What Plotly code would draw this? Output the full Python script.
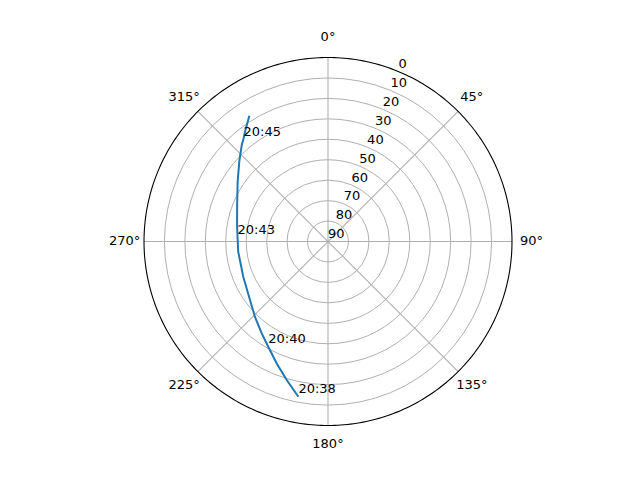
import plotly.graph_objects as go

# satellite pass: azimuth (deg) and elevation (deg)
azimuth = [190.8, 196.6, 202.8, 209.6, 215.8, 224.2, 233.1, 247.4, 263.5,
           272.8, 280.3, 291.9, 303.5, 312.0, 318.2, 320.5, 322.9, 328.0]
elevation = [12.7, 19.3, 25.3, 30.8, 34.6, 38.7, 42.3, 45.1, 45.8,
             45.7, 44.8, 42.1, 37.0, 31.6, 26.7, 25.0, 22.7, 17.4]

label_times = ['20:38', '20:40', '20:43', '20:45']
label_az = [190.8, 209.6, 272.8, 320.5]
label_el = [12.7, 30.8, 45.7, 25.0]

elev_ticks = [0, 10, 20, 30, 40, 50, 60, 70, 80, 90]
elev_label_az = 22.5
az_ticks = [0, 45, 90, 135, 180, 225, 270, 315]

font = dict(family='DejaVu Sans', size=13, color='black')
grid = dict(color='#b0b0b0', width=1.1)

fig = go.Figure()

# spokes every 45 degrees (drawn by hand so they stop at the horizon)
for a in az_ticks[:4]:
    fig.add_trace(go.Scatterpolar(
        r=[90, 0, 90], theta=[a, a, a + 180], mode='lines',
        line=grid, hoverinfo='skip'))

# horizon circle
rim_theta = list(range(0, 361))
fig.add_trace(go.Scatterpolar(
    r=[90] * len(rim_theta), theta=rim_theta, mode='lines',
    line=dict(color='black', width=1.1), hoverinfo='skip'))

fig.add_trace(go.Scatterpolar(
    r=[90 - e for e in elevation], theta=azimuth, mode='lines',
    line=dict(color='#1f77b4', width=2), hoverinfo='skip'))
fig.add_trace(go.Scatterpolar(
    r=[90 - e for e in label_el], theta=label_az, mode='text',
    text=label_times, textposition='top right', textfont=font))
# elevation labels along the 22.5 degree spoke, like matplotlib
fig.add_trace(go.Scatterpolar(
    r=[90 - e for e in elev_ticks], theta=[elev_label_az] * len(elev_ticks),
    mode='text', text=[str(e) for e in elev_ticks],
    textposition='top right', textfont=font, cliponaxis=False))
# azimuth labels just outside the rim
fig.add_trace(go.Scatterpolar(
    r=[99.5] * len(az_ticks), theta=az_ticks, mode='text',
    text=[f'{a}°' for a in az_ticks], textposition='middle center',
    textfont=font, cliponaxis=False))

fig.update_layout(
    width=640, height=480,
    paper_bgcolor='white',
    showlegend=False,
    margin=dict(l=0, r=0, t=0, b=0),
    font=font,
    polar=dict(
        domain=dict(x=[0.1486, 0.8514], y=[0.045, 0.982]),
        bgcolor='rgba(0,0,0,0)',
        radialaxis=dict(
            range=[0, 110],
            tickvals=[90 - e for e in elev_ticks[1:]],
            showticklabels=False,
            showline=False, ticks='',
            gridcolor='#b0b0b0', gridwidth=1.1),
        angularaxis=dict(
            rotation=90, direction='clockwise',
            showgrid=False, showline=False,
            showticklabels=False, ticks=''),
    ),
)

fig.write_html('out.html')
